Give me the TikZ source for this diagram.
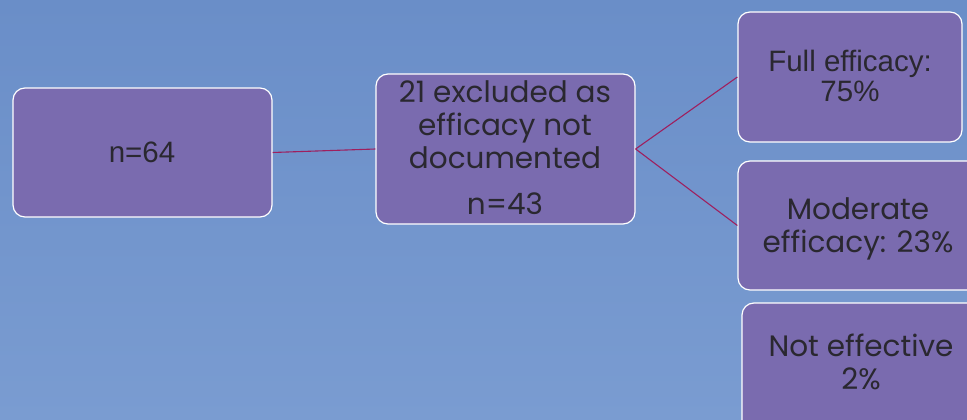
\documentclass[tikz,border=0pt]{standalone}
\usepackage{fontspec}
\setmainfont{Liberation Sans}
\newfontfamily\geofont{Poppins}
\definecolor{bgtop}{HTML}{6A8EC8}
\definecolor{bgbottom}{HTML}{7A9CD1}
\definecolor{boxfill}{HTML}{7A6BAF}
\definecolor{linkred}{HTML}{9E1F5E}
\definecolor{inkdark}{HTML}{2A2830}
\begin{document}
\begin{tikzpicture}[x=1pt,y=-1pt,
  box/.style={rectangle, rounded corners=12pt, draw=white, line width=1.2pt,
    fill=boxfill, inner sep=0pt},
  link/.style={draw=linkred, line width=1.1pt},
  arialtxt/.style={text=inkdark, align=center, anchor=base,
    font=\fontsize{29.5}{31}\selectfont},
  geotxt/.style={text=inkdark, align=center, anchor=base,
    font=\geofont\fontsize{29.5}{33}\selectfont}]
  % background
  \shade[top color=bgtop, bottom color=bgbottom] (0,0) rectangle (967,420);
  \useasboundingbox (0,0) rectangle (967,420);

  % boxes
  \node[box, minimum width=259pt, minimum height=129pt] (b1) at (142.5,152.5) {};
  \node[box, minimum width=259pt, minimum height=150pt] (b2) at (505.5,149) {};
  \node[box, minimum width=224pt, minimum height=130pt] (b3) at (850,77) {};
  \node[box, minimum width=242pt, minimum height=129pt] (b4) at (859,225.5) {};
  \node[box, minimum width=238pt, minimum height=130pt] (b5) at (861,368) {};

  % connectors
  \draw[link] (b1.east) -- (b2.west);
  \draw[link] (b2.east) -- (b3.west);
  \draw[link] (b2.east) -- (b4.west);

  % labels (base anchor sits on the last line)
  \node[arialtxt] (t1) at (142,162) {n=64};
  \node[geotxt] (t2) at (505,168) {21 excluded as\\efficacy not\\documented};
  \node[geotxt] (t2b) at (505,214) {n=43};
  \node[arialtxt] (t3) at (850,102) {Full efficacy:\\75\%};
  \node[geotxt] (t4) at (858,252) {Moderate\\efficacy: 23\%};
  \node[geotxt] (t5) at (861,389) {Not effective\\2\%};
\end{tikzpicture}
\end{document}
